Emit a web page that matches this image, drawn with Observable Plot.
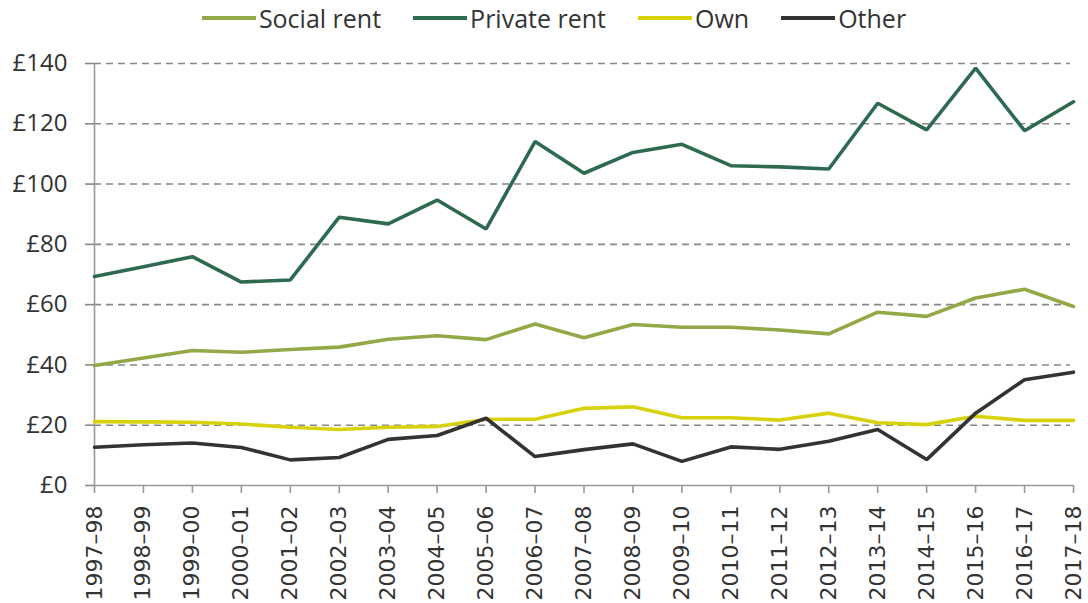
<!DOCTYPE html>
<html>
<head>
<meta charset="utf-8">
<script src="https://cdn.jsdelivr.net/npm/d3@7"></script>
<script src="https://cdn.jsdelivr.net/npm/@observablehq/plot@0.6"></script>
<style>
  html, body { margin: 0; padding: 0; overflow: hidden; background: #fff; font-family: "Open Sans", sans-serif; color: #333; }
  #legend { height: 36px; display: flex; justify-content: center; align-items: center; padding-left: 20px; font-size: 25px; }
  .item { display: flex; align-items: center; margin: 0 16px; }
  .sw { width: 54px; height: 4px; margin-right: 3px; }
  #chart svg { display: block; max-width: none !important; }
</style>
</head>
<body>
<div id="legend"></div>
<div id="chart"></div>
<script>
const years = ["1997–98","1998–99","1999–00","2000–01","2001–02","2002–03","2003–04","2004–05","2005–06","2006–07","2007–08","2008–09","2009–10","2010–11","2011–12","2012–13","2013–14","2014–15","2015–16","2016–17","2017–18"];
const socialRent  = [39.8,42.3,44.8,44.2,45.1,45.9,48.5,49.7,48.4,53.6,49.0,53.4,52.5,52.5,51.6,50.3,57.5,56.1,62.2,65.1,59.4];
const privateRent = [69.3,72.6,75.9,67.5,68.2,89.0,86.8,94.7,85.1,114.1,103.6,110.5,113.2,106.1,105.7,105.0,126.8,118.0,138.5,117.7,127.3];
const own         = [21.2,21.1,21.0,20.4,19.3,18.6,19.3,19.6,22.0,22.0,25.6,26.1,22.5,22.5,21.7,24.0,20.8,20.2,23.0,21.6,21.6];
const other       = [12.7,13.5,14.1,12.6,8.5,9.3,15.3,16.6,22.3,9.6,11.9,13.8,8.0,12.8,12.0,14.7,18.6,8.6,24.0,35.1,37.6];
const seriesNames = ["Social rent","Private rent","Own","Other"];
const seriesColors = ["#93a846","#2e6a4f","#d7d20b","#333333"];
const yTicks = [0,20,40,60,80,100,120,140];

const seriesValues = [socialRent, privateRent, own, other];
const data = [];
seriesNames.forEach((s, i) => years.forEach((y, j) => data.push({series: s, year: y, value: seriesValues[i][j]})));

const legend = document.getElementById("legend");
seriesNames.forEach((s, i) => {
  const it = document.createElement("div");
  it.className = "item";
  it.innerHTML = `<div class="sw" style="background:${seriesColors[i]}"></div><span>${s}</span>`;
  legend.appendChild(it);
});

const plot = Plot.plot({
  width: 1088,
  height: 567,
  marginTop: 27,
  marginBottom: 118,
  marginLeft: 94,
  marginRight: 15,
  style: {fontFamily: "Open Sans", fontSize: "24px", color: "#333", background: "#fff"},
  x: {type: "point", domain: years, padding: 0, round: false, label: null},
  y: {domain: [0, 140], label: null},
  color: {domain: seriesNames, range: seriesColors},
  marks: [
    Plot.ruleY(yTicks.filter(d => d > 0), {stroke: "#888", strokeWidth: 1.6, strokeDasharray: "7,5", insetRight: 3}),
    Plot.ruleY([0], {stroke: "#999", strokeWidth: 1.6}),
    Plot.ruleX([years[0]], {y1: 0, y2: 140, stroke: "#999", strokeWidth: 1.6}),
    Plot.axisY({ticks: yTicks, tickFormat: d => "£" + d, tickSize: 9, tickPadding: 18, stroke: "#888", strokeWidth: 1.6, fontSize: 24, fontFamily: "Open Sans", fill: "#333"}),
    Plot.axisX({tickRotate: -90, tickSize: 8, tickPadding: 12, stroke: "#999", strokeWidth: 1.6, fontSize: 22, fontFamily: "DejaVu Sans", fill: "#333"}),
    Plot.line(data, {x: "year", y: "value", z: "series", stroke: "series", strokeWidth: 3.6, strokeLinejoin: "miter"})
  ]
});
document.getElementById("chart").appendChild(plot);
</script>
</body>
</html>
